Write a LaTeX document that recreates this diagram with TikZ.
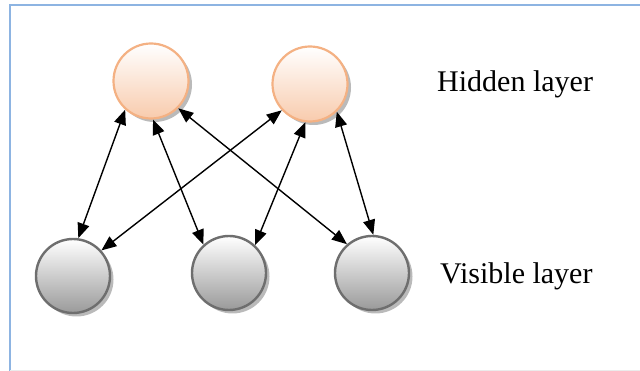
\documentclass[tikz,border=0pt]{standalone}
\usepackage{fontspec}
\setmainfont{Liberation Serif}
\usetikzlibrary{arrows.meta,shadows}
\definecolor{frameblue}{HTML}{8DB4E2}
\definecolor{peachline}{HTML}{F4B183}
\definecolor{peachfill}{HTML}{F8CBAD}
\definecolor{grayline}{HTML}{6E6E6E}
\definecolor{grayfill}{HTML}{9A9A9A}
\tikzset{
  hiddenunit/.style={circle, minimum size=75pt, inner sep=0pt, draw=peachline, line width=2.2pt,
    top color=white, bottom color=peachfill,
    drop shadow={shadow xshift=3.5pt, shadow yshift=-3.5pt, fill=black!45, opacity=0.6}},
  visibleunit/.style={circle, minimum size=74pt, inner sep=0pt, draw=grayline, line width=2.4pt,
    top color=white, bottom color=grayfill,
    drop shadow={shadow xshift=3.5pt, shadow yshift=-3.5pt, fill=black!45, opacity=0.6}},
  link/.style={{Triangle[length=15pt,width=12pt]}-{Triangle[length=15pt,width=12pt]}, line width=1.4pt, black},
  label/.style={anchor=base west, inner sep=0pt, font=\fontsize{30}{36}\selectfont}
}
\begin{document}
\begin{tikzpicture}[x=1pt,y=-1pt]
\useasboundingbox (0,0) rectangle (640,371);
\draw[frameblue, line width=2.2pt] (10,371) -- (10,5) -- (640,5);
\draw[black!8, line width=1pt] (10,370) -- (640,370);
\node[hiddenunit] (h1) at (151,81) {};
\node[hiddenunit] (h2) at (310,84) {};
\node[visibleunit] (v1) at (73,276) {};
\node[visibleunit] (v2) at (229,273) {};
\node[visibleunit] (v3) at (372,273) {};
\draw[link] (h1.228) -- (v1.82);
\draw[link] (h1.273) -- (v2.132);
\draw[link] (h1.315) -- (v3.131);
\draw[link] (h2.223) -- (v1.42);
\draw[link] (h2.263) -- (v2.47);
\draw[link] (h2.314) -- (v3.88);
\node[label] (hl) at (437,92) {Hidden layer};
\node[label] (vl) at (440,284) {Visible layer};
\end{tikzpicture}
\end{document}
